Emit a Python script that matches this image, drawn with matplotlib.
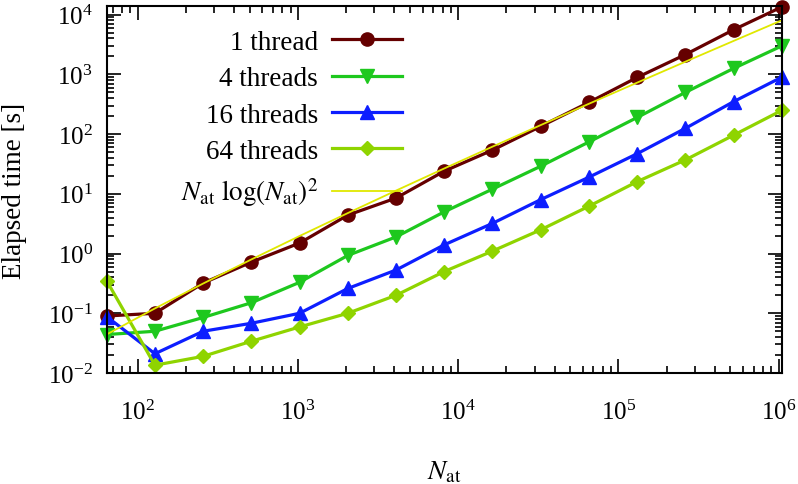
import numpy as np
import matplotlib
matplotlib.use("Agg")
from matplotlib import pyplot as plt
from matplotlib.ticker import LogLocator

plt.rcParams['font.family'] = ['Liberation Serif', 'DejaVu Serif']
plt.rcParams['mathtext.fontset'] = 'stix'
plt.rcParams['axes.unicode_minus'] = False

# number of atoms: 2^6 ... 2^20
n_at = [64, 128, 256, 512, 1024, 2048, 4096, 8192, 16384, 32768, 65536,
        131072, 262144, 524288, 1048576]

# elapsed time [s]
t_1 = [0.09, 0.10, 0.32, 0.72, 1.5, 4.4, 8.5, 24, 54, 135, 340, 890, 2150, 5600, 13500]
t_4 = [0.044, 0.05, 0.085, 0.15, 0.33, 0.93, 1.9, 5.0, 12, 29, 74, 190, 500, 1260, 3000]
t_16 = [0.088, 0.021, 0.05, 0.068, 0.10, 0.26, 0.53, 1.4, 3.2, 8.0, 19, 47, 125, 350, 900]
t_64 = [0.35, 0.0135, 0.019, 0.034, 0.059, 0.10, 0.20, 0.50, 1.1, 2.5, 6.2, 16, 37, 96, 250]

fit_coef = 4.0e-5   # prefactor of N log(N)^2

series = [
    ("1 thread", t_1, '#650000', 'o', 9.5),
    ("4 threads", t_4, '#1ec81e', 'v', 10),
    ("16 threads", t_16, '#0d1eff', '^', 10),
    ("64 threads", t_64, '#8fd400', 'D', 7.5),
]

fig = plt.figure(figsize=(7.98, 4.85), dpi=100)
ax = fig.add_axes([0.1337, 0.2289, 0.846, 0.7567])

for label, t, c, m, ms in series:
    ax.plot(n_at, t, color=c, marker=m, ms=ms, lw=2.3, label=label, clip_on=False)

x = np.array(n_at, dtype=float)
ax.plot(x, fit_coef * x * np.log(x) ** 2, color='#e0e800', lw=1.3,
        label=r"$N_\mathrm{at}\ \log(N_\mathrm{at})^2$")

ax.set_xscale('log')
ax.set_yscale('log')
ax.set_xlim(64, 1048576)
ax.set_ylim(0.01, 14000)

ax.xaxis.set_major_locator(LogLocator(base=10, numticks=20))
ax.yaxis.set_major_locator(LogLocator(base=10, numticks=20))
ax.xaxis.set_minor_locator(LogLocator(base=10, subs=np.arange(2, 10), numticks=20))
ax.yaxis.set_minor_locator(LogLocator(base=10, subs=np.arange(2, 10), numticks=20))

ax.tick_params(which='both', direction='in', top=True, right=True, width=1.2)
ax.tick_params(which='major', length=10, labelsize=18)
ax.tick_params(axis='x', which='major', pad=19)
ax.tick_params(axis='y', which='major', pad=10)
ax.tick_params(which='minor', length=5)
for s in ax.spines.values():
    s.set_linewidth(1.5)

ax.set_xlabel(r"$N_\mathrm{at}$", fontsize=19.5)
ax.set_ylabel("Elapsed time [s]", fontsize=19.5)
ax.xaxis.set_label_coords(0.5, -0.235)
ax.yaxis.set_label_coords(-0.118, 0.5)

ax.legend(loc='upper right', bbox_to_anchor=(0.4375, 0.935), frameon=False,
          markerfirst=False, fontsize=19.5, handlelength=2.6, handletextpad=0.5,
          labelspacing=0.42, borderaxespad=0, borderpad=0)

fig.savefig('out.png', dpi=100)
